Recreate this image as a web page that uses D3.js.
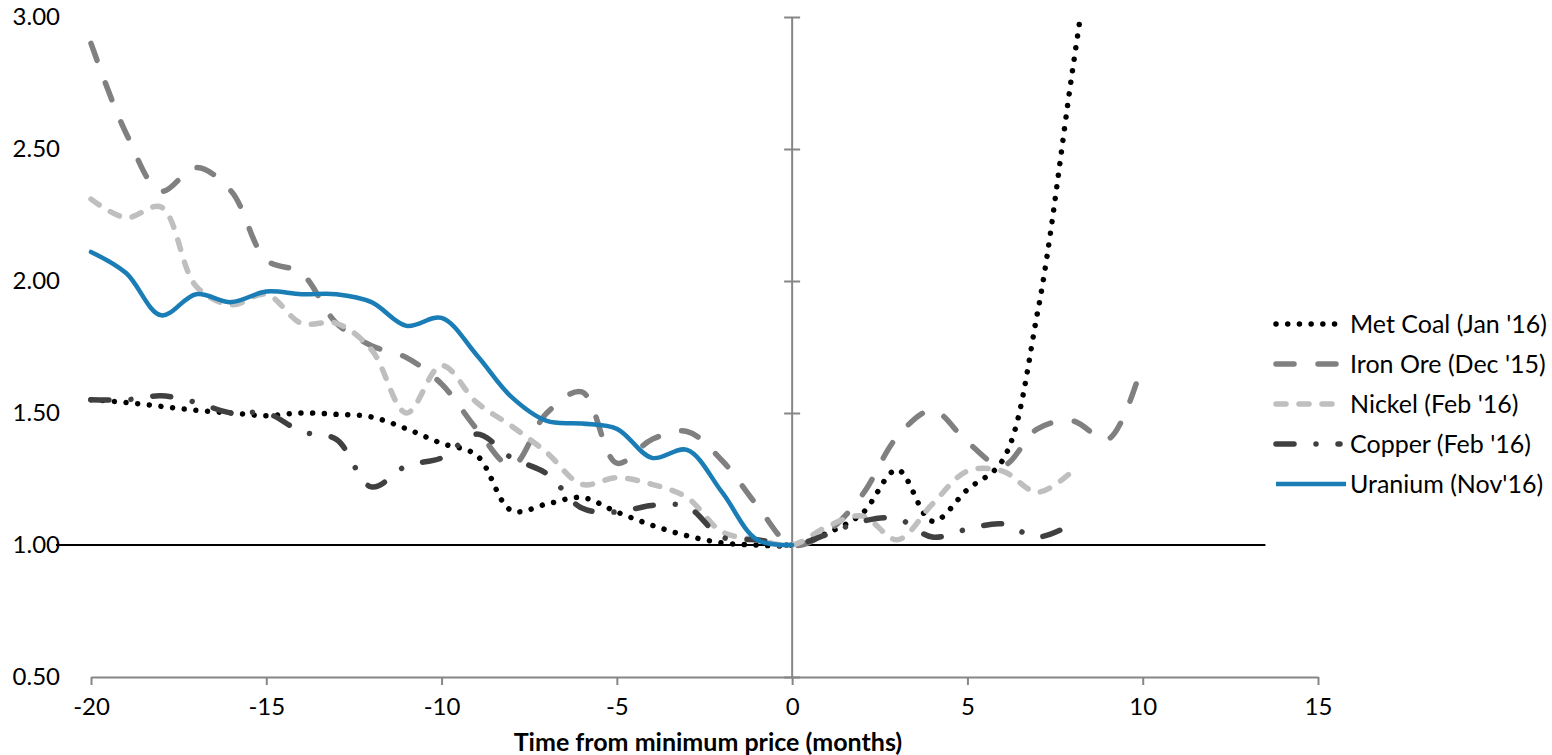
<!DOCTYPE html>
<html><head><meta charset="utf-8">
<script src="https://cdn.jsdelivr.net/npm/d3@7"></script>
<style>
html,body{margin:0;padding:0;background:#fff;}
svg{display:block;font-family:Lato,"Open Sans",sans-serif;}
</style>
</head><body>
<svg id="chart" width="1552" height="755"></svg>
<script>
// ---- data (value relative to minimum price, by month from minimum) ----
const startMonth = -20;
const seriesNames = ["Met Coal (Jan '16)", "Iron Ore (Dec '15)", "Nickel (Feb '16)", "Copper (Feb '16)", "Uranium (Nov'16)"];
const metCoal = [1.55,1.54,1.525,1.51,1.50,1.49,1.50,1.495,1.485,1.44,1.385,1.34,1.13,1.155,1.18,1.125,1.075,1.035,1.008,1.0,1.0,1.045,1.12,1.285,1.09,1.21,1.32,1.88,2.80,3.70];
const ironOre = [2.90,2.56,2.34,2.43,2.34,2.08,2.03,1.84,1.755,1.71,1.61,1.44,1.30,1.50,1.58,1.31,1.40,1.43,1.32,1.15,1.00,1.05,1.19,1.41,1.51,1.39,1.30,1.44,1.47,1.40,1.69];
const nickel  = [2.31,2.24,2.28,1.98,1.91,1.95,1.84,1.84,1.74,1.50,1.68,1.54,1.45,1.35,1.23,1.255,1.23,1.18,1.05,1.02,1.00,1.07,1.11,1.02,1.155,1.28,1.28,1.20,1.28];
const copper  = [1.55,1.55,1.565,1.54,1.50,1.50,1.43,1.40,1.22,1.30,1.33,1.42,1.33,1.27,1.14,1.125,1.15,1.145,1.03,1.02,1.00,1.04,1.09,1.10,1.03,1.06,1.08,1.03,1.08];
const uranium = [2.11,2.03,1.87,1.95,1.92,1.96,1.95,1.95,1.92,1.83,1.86,1.72,1.56,1.47,1.46,1.44,1.33,1.36,1.20,1.02,1.00];
const baselineX = [-21, 13.5];
const baselineY = [1.0, 1.0];
const xTicks = [-20,-15,-10,-5,0,5,10,15];
const yTicks = [0.5,1.0,1.5,2.0,2.5,3.0];
const axisTitle = "Time from minimum price (months)";

// ---- styles ----
const styles = [
  {color:"#000000", width:5.5, dash:"0.01,11.7"},
  {color:"#808080", width:5.5, dash:"18,24"},
  {color:"#BFBFBF", width:5.5, dash:"10,13"},
  {color:"#404040", width:5.5, dash:"18,22,0.01,22"},
  {color:"#1A7DB5", width:4.5, dash:null}
];
const seriesValues = [metCoal, ironOre, nickel, copper, uranium];

const svg = d3.select("#chart");
const x = d3.scaleLinear().domain([-20,15]).range([91,1318]);
const y = d3.scaleLinear().domain([0.5,3]).range([677,17]);
const axisColor = "#868686";
const fontSize = 24;

// clip
svg.append("defs").append("clipPath").attr("id","plot")
  .append("rect").attr("x",x(-20)-4).attr("y",y(3)).attr("width",x(15)-x(-20)+8).attr("height",y(0.5)-y(3));

// x axis
const xAxis = svg.append("g").attr("transform",`translate(0,${y(0.5)})`)
  .call(d3.axisBottom(x).tickValues(xTicks).tickFormat(d=>String(d)).tickSize(8).tickSizeOuter(0).tickPadding(13));
xAxis.select(".domain").attr("stroke",axisColor).attr("stroke-width",2);
xAxis.selectAll(".tick line").attr("stroke",axisColor).attr("stroke-width",2);
xAxis.selectAll("text").attr("font-size",fontSize).attr("fill","#000").attr("font-family","Lato");

// y axis line at x=0 with crossing ticks
const yAxisG = svg.append("g").attr("transform",`translate(${x(0)+8},0)`)
  .call(d3.axisLeft(y).tickValues(yTicks).tickSize(16).tickFormat(""));
yAxisG.select(".domain").remove();
yAxisG.selectAll(".tick line").attr("stroke",axisColor).attr("stroke-width",2);
svg.append("line").attr("x1",x(0)).attr("x2",x(0)).attr("y1",y(3)).attr("y2",y(0.5))
  .attr("stroke",axisColor).attr("stroke-width",2);

// y labels at left
const yLab = svg.append("g").attr("transform",`translate(60,0)`)
  .call(d3.axisLeft(y).tickValues(yTicks).tickSize(0).tickPadding(0).tickFormat(d3.format(".2f")));
yLab.select(".domain").remove();
yLab.selectAll("text").attr("font-size",fontSize).attr("fill","#000").attr("font-family","Lato");

// baseline at 1.00
svg.append("path")
  .datum(baselineX.map((d,i)=>[d,baselineY[i]]))
  .attr("d", d3.line().x(d=>x(d[0])).y(d=>y(d[1])))
  .attr("stroke","#000").attr("stroke-width",2).attr("fill","none");

// series
const line = d3.line().x(d=>x(d[0])).y(d=>y(d[1])).curve(d3.curveCatmullRom.alpha(0.5));
const plotG = svg.append("g").attr("clip-path","url(#plot)");
seriesValues.forEach((vals,i)=>{
  const pts = vals.map((v,j)=>[startMonth+j, v]);
  const st = styles[i];
  const p = plotG.append("path").datum(pts).attr("d",line)
    .attr("fill","none").attr("stroke",st.color).attr("stroke-width",st.width)
    .attr("stroke-linecap","round").attr("stroke-linejoin","round");
  if (st.dash) p.attr("stroke-dasharray",st.dash);
});

// legend
const legend = svg.append("g");
seriesNames.forEach((name,i)=>{
  const st = styles[i];
  const yy = 324 + 40*i;
  const l = legend.append("line").attr("x1",1276).attr("x2", i===4 ? 1346 : 1340).attr("y1",yy).attr("y2",yy)
    .attr("stroke",st.color).attr("stroke-width",st.width).attr("stroke-linecap", i===4 ? "butt":"round");
  if (st.dash) l.attr("stroke-dasharray",st.dash);
  legend.append("text").attr("x",1350).attr("y",yy).attr("dy","0.35em")
    .attr("font-size",25).attr("fill","#000").text(name);
});

// axis title
svg.append("text").attr("x",708).attr("y",742).attr("dy","0.35em").attr("text-anchor","middle")
  .attr("font-size",25).attr("font-weight","bold").attr("fill","#000").text(axisTitle);
</script>
</body></html>
